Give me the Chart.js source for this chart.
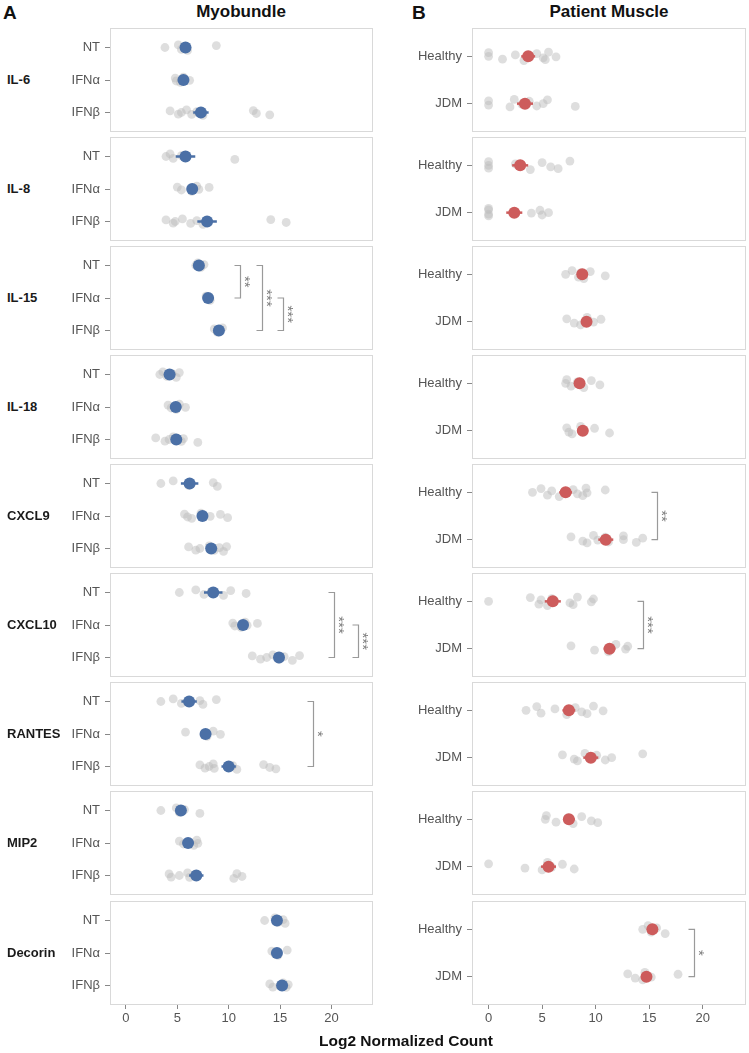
<!DOCTYPE html>
<html>
<head>
<meta charset="utf-8">
<script src="https://cdn.jsdelivr.net/npm/chart.js@4.4.0/dist/chart.umd.min.js"></script>
<style>
  body { margin: 0; background: #fff; width: 749px; height: 1053px; position: relative; overflow: hidden;
         font-family: "Liberation Sans", Arial, sans-serif; }
  canvas { position: absolute; }
  .txt { position: absolute; white-space: nowrap; line-height: 1; }
  .gene { left: 7px; font-weight: bold; font-size: 13px; color: #1a1a1a; }
  .head { font-weight: bold; font-size: 17px; color: #111; transform: translateX(-50%); }
  .tag { font-weight: bold; font-size: 19px; color: #111; }
</style>
</head>
<body>
<script>
// categories
const genes = ['IL-6', 'IL-8', 'IL-15', 'IL-18', 'CXCL9', 'CXCL10', 'RANTES', 'MIP2', 'Decorin'];
const myoGroups = ['NT', 'IFNα', 'IFNβ'];
const patientGroups = ['Healthy', 'JDM'];
const xTicks = [0, 5, 10, 15, 20];

// single samples, myobundle (NT, IFNα, IFNβ)
const myoIL6 = [[3.8, 5.1, 5.4, 5.7, 6.0, 8.8], [4.8, 4.9, 5.3, 5.6, 6.2], [4.3, 5.1, 5.4, 5.9, 6.4, 6.9, 7.5, 12.4, 12.7, 14.0]];
const myoIL8 = [[3.9, 4.3, 4.6, 5.4, 10.6], [5.0, 5.4, 6.4, 6.9, 7.1, 8.1], [3.9, 4.6, 4.8, 5.5, 6.3, 6.9, 7.5, 14.1, 15.6]];
const myoIL15 = [[6.8, 7.0, 7.3, 7.6], [7.8, 8.0, 8.2], [8.6, 8.9, 9.1, 9.4]];
const myoIL18 = [[3.3, 3.6, 4.0, 4.5, 4.9, 5.2], [4.1, 4.4, 4.9, 5.2, 5.8], [2.9, 3.8, 4.2, 4.6, 5.4, 5.6, 7.0]];
const myoCXCL9 = [[3.4, 4.6, 6.1, 8.5, 8.9], [5.7, 6.0, 6.4, 7.3, 8.2, 9.2, 9.9], [6.1, 6.8, 7.2, 8.1, 8.6, 9.1, 9.5, 9.8]];
const myoCXCL10 = [[5.2, 6.8, 7.6, 8.3, 9.5, 10.2, 11.7], [10.4, 10.6, 11.2, 11.6, 11.8, 12.8], [12.3, 13.1, 13.7, 14.3, 14.9, 15.4, 16.2, 16.9]];
const myoRANTES = [[3.4, 4.6, 5.4, 7.2, 7.5, 8.8], [5.8, 7.6, 7.9, 8.5, 9.2], [7.2, 7.7, 8.1, 8.5, 8.6, 10.4, 10.8, 13.4, 14.0, 14.6]];
const myoMIP2 = [[3.4, 4.9, 5.2, 5.7, 7.2], [5.2, 5.6, 6.6, 6.9, 7.0], [4.2, 4.4, 5.2, 6.0, 6.2, 6.7, 10.5, 10.8, 11.3]];
const myoDecorin = [[13.5, 14.5, 14.8, 15.3, 15.5], [14.2, 14.5, 14.8, 15.7], [14.0, 14.3, 15.0, 15.3, 15.6, 15.8]];

// single samples, patient muscle (Healthy, JDM)
const patIL6 = [[0, 0, 1.3, 2.5, 3.3, 4.5, 5.1, 5.3, 5.6, 6.3], [0, 0, 2.0, 2.4, 3.1, 3.8, 4.5, 5.1, 5.5, 8.1]];
const patIL8 = [[0, 0, 0, 2.5, 3.9, 5.0, 5.8, 6.5, 7.6], [0, 0, 0, 0, 4.0, 4.8, 5.0, 5.6]];
const patIL15 = [[7.2, 7.8, 8.4, 8.6, 8.9, 9.5, 10.9], [7.3, 8.0, 8.6, 9.2, 9.8, 10.5]];
const patIL18 = [[7.2, 7.3, 7.7, 8.3, 8.9, 9.6, 10.4], [7.3, 7.5, 7.8, 8.6, 8.9, 9.9, 11.3]];
const patCXCL9 = [[4.1, 4.9, 5.5, 5.9, 6.6, 7.9, 8.3, 8.8, 9.1, 9.2, 10.9], [7.7, 8.8, 9.2, 9.8, 10.2, 10.9, 11.2, 12.6, 12.6, 13.8, 14.4]];
const patCXCL10 = [[0, 3.9, 4.7, 4.9, 5.5, 5.9, 7.6, 7.9, 8.3, 9.6, 9.8], [7.7, 9.9, 11.2, 11.9, 12.8, 13.0]];
const patRANTES = [[3.5, 4.5, 4.9, 6.2, 7.3, 8.1, 8.7, 9.2, 9.8, 10.7], [6.9, 8.0, 8.3, 9.0, 9.4, 10.1, 10.9, 11.5, 14.4]];
const patMIP2 = [[5.3, 5.4, 6.3, 7.4, 7.9, 8.7, 9.6, 10.2], [0, 3.4, 5.0, 5.5, 5.9, 6.9, 8.0]];
const patDecorin = [[14.4, 14.9, 15.2, 15.7, 16.5], [13.0, 13.7, 14.4, 14.6, 15.2, 17.7]];

// group means and standard errors
const myoMean = [[5.8, 5.6, 7.3], [5.8, 6.45, 7.9], [7.1, 8.0, 9.05], [4.25, 4.85, 4.9], [6.2, 7.45, 8.3],
                 [8.5, 11.4, 14.9], [6.15, 7.75, 10.0], [5.35, 6.05, 6.85], [14.7, 14.7, 15.2]];
const myoSem = [[0.45, 0.25, 0.75], [0.95, 0.4, 0.95], [0.15, 0.1, 0.15], [0.25, 0.25, 0.45], [0.85, 0.5, 0.45],
                [0.9, 0.3, 0.5], [0.75, 0.5, 0.7], [0.45, 0.3, 0.7], [0.3, 0.2, 0.25]];
const patMean = [[3.7, 3.4], [2.95, 2.4], [8.75, 9.15], [8.5, 8.8], [7.2, 10.95],
                 [6.0, 11.3], [7.5, 9.55], [7.5, 5.6], [15.3, 14.75]];
const patSem = [[0.65, 0.75], [0.75, 0.75], [0.45, 0.4], [0.4, 0.5], [0.6, 0.7],
                [0.75, 0.55], [0.6, 0.7], [0.55, 0.7], [0.3, 0.45]];

// significance brackets (group index from/to, x in data units)
const myoBrackets = [[], [], [{ from: 0, to: 1, x: 11.1, label: '**' }, { from: 0, to: 2, x: 13.2, label: '***' }, { from: 1, to: 2, x: 15.3, label: '***' }],
  [], [], [{ from: 0, to: 2, x: 20.3, label: '***' }, { from: 1, to: 2, x: 22.55, label: '***' }],
  [{ from: 0, to: 2, x: 18.2, label: '*' }], [], []];
const patBrackets = [[], [], [], [], [{ from: 0, to: 1, x: 15.7, label: '**' }], [{ from: 0, to: 1, x: 14.4, label: '***' }],
  [], [], [{ from: 0, to: 1, x: 19.15, label: '*' }]];

const myoPoints = [myoIL6, myoIL8, myoIL15, myoIL18, myoCXCL9, myoCXCL10, myoRANTES, myoMIP2, myoDecorin];
const patPoints = [patIL6, patIL8, patIL15, patIL18, patCXCL9, patCXCL10, patRANTES, patMIP2, patDecorin];

// ---- layout / style ----
const FONT = '"Liberation Sans", Arial, sans-serif';
Chart.defaults.font.family = FONT;
const JITTER = [0.0, -0.08, 0.06, -0.03, 0.09, -0.06, 0.03, 0.07, -0.09, 0.01, -0.05, 0.05];
const panelTops = [28, 137, 246, 355, 464, 573, 682, 791, 901];
const panelH = 104;
const cols = [
  { left: 40, width: 340, yW: 70, padR: 7, color: '#4B70A6', groups: myoGroups, pts: myoPoints, mean: myoMean, sem: myoSem, br: myoBrackets },
  { left: 398, width: 351, yW: 74, padR: 3, color: '#CD5C5C', groups: patientGroups, pts: patPoints, mean: patMean, sem: patSem, br: patBrackets }
];

const borderPlugin = {
  id: 'panelBorder',
  beforeDatasetsDraw(chart) {
    const a = chart.chartArea, ctx = chart.ctx;
    ctx.save();
    ctx.strokeStyle = '#d9d9d9';
    ctx.lineWidth = 1;
    ctx.strokeRect(Math.round(a.left) + 0.5, Math.round(a.top) + 0.5, Math.round(a.right - a.left) - 1, Math.round(a.bottom - a.top) - 1);
    ctx.restore();
  }
};

const bracketPlugin = {
  id: 'brackets',
  afterDatasetsDraw(chart, args, opts) {
    const ctx = chart.ctx, xs = chart.scales.x, ys = chart.scales.y;
    ctx.save();
    (opts.items || []).forEach(b => {
      const px = Math.round(xs.getPixelForValue(b.x)) + 0.5;
      const y1 = ys.getPixelForValue(b.from + 1), y2 = ys.getPixelForValue(b.to + 1);
      ctx.strokeStyle = '#9a9a9a';
      ctx.lineWidth = 1.2;
      ctx.beginPath();
      ctx.moveTo(px - 6, y1); ctx.lineTo(px, y1); ctx.lineTo(px, y2); ctx.lineTo(px - 6, y2);
      ctx.stroke();
      ctx.translate(px + 4, (y1 + y2) / 2);
      ctx.rotate(Math.PI / 2);
      ctx.fillStyle = '#7f7f7f';
      ctx.font = '15px ' + FONT;
      ctx.textAlign = 'center';
      ctx.textBaseline = 'middle';
      ctx.fillText(b.label, 0, 0);
      ctx.setTransform(1, 0, 0, 1, 0, 0);
    });
    ctx.restore();
  }
};

function addText(cls, text, left, top) {
  const d = document.createElement('div');
  d.className = 'txt ' + cls;
  d.textContent = text;
  d.style.left = left + 'px';
  d.style.top = top + 'px';
  document.body.appendChild(d);
  return d;
}

function makePanel(c, row) {
  const col = cols[c];
  const n = col.groups.length;
  const bottom = row === genes.length - 1;
  const cv = document.createElement('canvas');
  const h = panelH + (bottom ? 30 : 0);
  cv.width = col.width; cv.height = h;
  cv.style.left = col.left + 'px';
  cv.style.top = panelTops[row] + 'px';
  document.body.appendChild(cv);

  const gray = [];
  col.pts[row].forEach((vals, i) => {
    vals.forEach((v, k) => gray.push({ x: v, y: i + 1 + JITTER[(k + i * 5) % JITTER.length] }));
  });
  const datasets = [{
    data: gray, pointRadius: 4.4, pointBackgroundColor: 'rgba(190,190,190,0.5)', pointBorderWidth: 0, order: 3, clip: false
  }];
  col.mean[row].forEach((m, i) => {
    const s = col.sem[row][i];
    datasets.push({
      data: [{ x: m - s, y: i + 1 }, { x: m + s, y: i + 1 }], showLine: true, borderColor: col.color,
      borderWidth: 2.5, pointRadius: 0, order: 2, clip: false
    });
  });
  datasets.push({
    data: col.mean[row].map((m, i) => ({ x: m, y: i + 1 })), pointRadius: 6,
    pointBackgroundColor: col.color, pointBorderWidth: 0, order: 1, clip: false
  });

  new Chart(cv, {
    type: 'scatter',
    data: { datasets },
    options: {
      responsive: false, animation: false, events: [],
      layout: { autoPadding: false, padding: { left: 0, right: col.padR, top: 0, bottom: 0 } },
      plugins: { legend: { display: false }, tooltip: { enabled: false }, brackets: { items: col.br[row] } },
      scales: {
        x: {
          type: 'linear', min: -1.55, max: 24.05, display: bottom,
          afterBuildTicks: s => { s.ticks = xTicks.map(v => ({ value: v })); },
          afterFit: s => { if (bottom) s.height = 30; s.paddingLeft = 0; s.paddingRight = 0; },
          ticks: { color: '#555', font: { size: 13 }, padding: 2, maxRotation: 0, autoSkip: false },
          grid: { drawOnChartArea: false, drawTicks: true, tickLength: 4, color: '#888' },
          border: { display: false }
        },
        y: {
          type: 'linear', reverse: true, min: 0.4, max: n + 0.6,
          afterBuildTicks: s => { s.ticks = col.groups.map((g, i) => ({ value: i + 1 })); },
          afterFit: s => { s.width = col.yW; s.paddingTop = 0; s.paddingBottom = 0; },
          ticks: { color: '#555', font: { size: 13 }, padding: 5, callback: (v, i) => col.groups[i] },
          grid: { drawOnChartArea: false, drawTicks: true, tickLength: 5, color: '#888' },
          border: { display: false }
        }
      }
    },
    plugins: [borderPlugin, bracketPlugin]
  });
}

genes.forEach((g, row) => {
  makePanel(0, row);
  makePanel(1, row);
  addText('gene', g, 7, panelTops[row] + panelH / 2 - 7);
});

addText('tag', 'A', 3, 3);
addText('tag', 'B', 412, 3);
addText('head', 'Myobundle', 241, 3);
addText('head', 'Patient Muscle', 609, 3);
addText('head', 'Log2 Normalized Count', 406, 1033).style.fontSize = '15.5px';
</script>
</body>
</html>
